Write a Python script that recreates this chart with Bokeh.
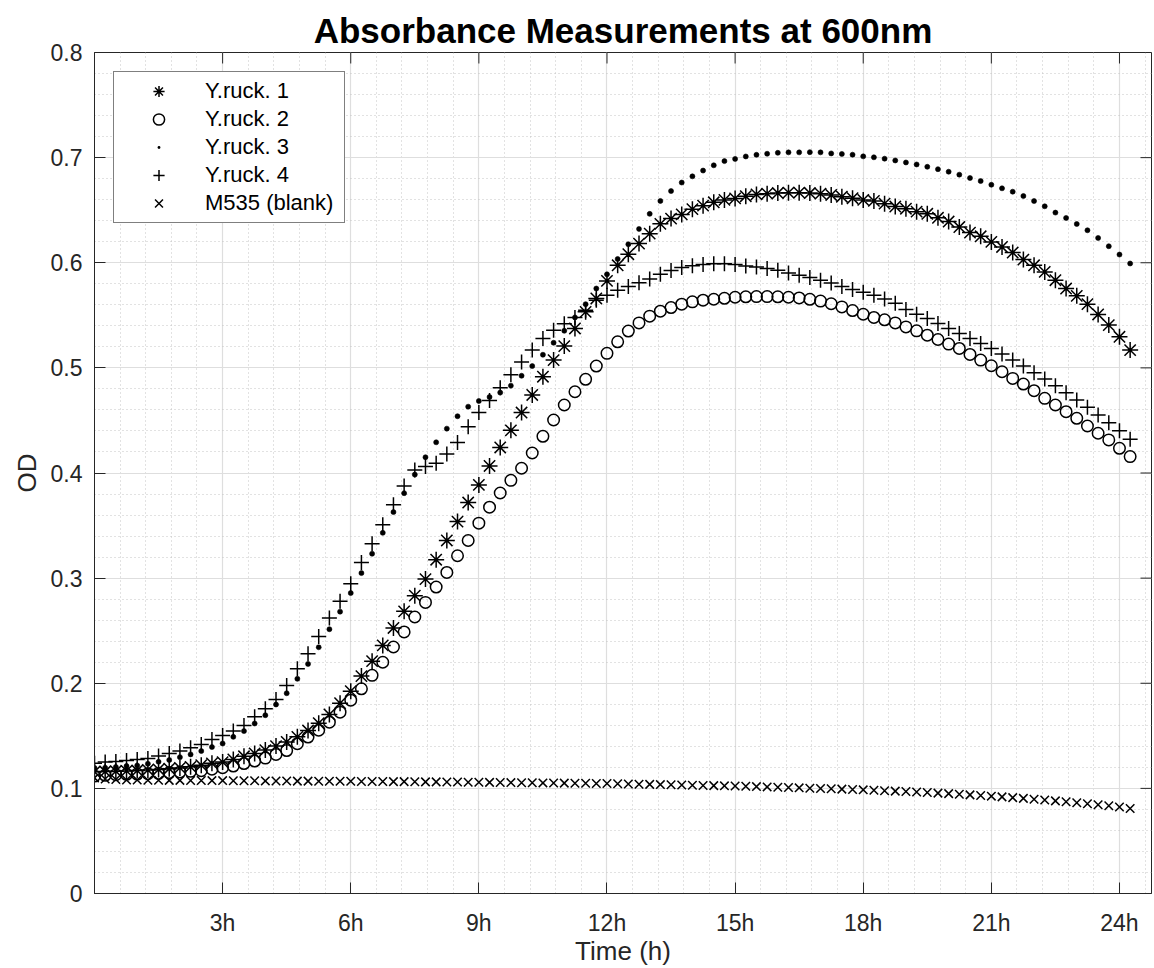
from bokeh.plotting import figure
from bokeh.models import Range1d, FixedTicker
from bokeh.embed import file_html
from bokeh.resources import INLINE

TIME_H = [
    0.0, 0.25, 0.5, 0.75, 1.0, 1.25, 1.5, 1.75,
    2.0, 2.25, 2.5, 2.75, 3.0, 3.25, 3.5, 3.75,
    4.0, 4.25, 4.5, 4.75, 5.0, 5.25, 5.5, 5.75,
    6.0, 6.25, 6.5, 6.75, 7.0, 7.25, 7.5, 7.75,
    8.0, 8.25, 8.5, 8.75, 9.0, 9.25, 9.5, 9.75,
    10.0, 10.25, 10.5, 10.75, 11.0, 11.25, 11.5, 11.75,
    12.0, 12.25, 12.5, 12.75, 13.0, 13.25, 13.5, 13.75,
    14.0, 14.25, 14.5, 14.75, 15.0, 15.25, 15.5, 15.75,
    16.0, 16.25, 16.5, 16.75, 17.0, 17.25, 17.5, 17.75,
    18.0, 18.25, 18.5, 18.75, 19.0, 19.25, 19.5, 19.75,
    20.0, 20.25, 20.5, 20.75, 21.0, 21.25, 21.5, 21.75,
    22.0, 22.25, 22.5, 22.75, 23.0, 23.25, 23.5, 23.75,
    24.0, 24.25,
]

Y_RUCK_1 = [
    0.1158, 0.1160, 0.1163, 0.1166, 0.1170, 0.1175, 0.1180, 0.1187,
    0.1195, 0.1205, 0.1220, 0.1238, 0.1250, 0.1275, 0.1305, 0.1332,
    0.1364, 0.1402, 0.1442, 0.1490, 0.1550, 0.1620, 0.1703, 0.1810,
    0.1925, 0.2068, 0.2210, 0.2360, 0.2526, 0.2684, 0.2833, 0.2991,
    0.3175, 0.3358, 0.3538, 0.3719, 0.3887, 0.4067, 0.4243, 0.4406,
    0.4575, 0.4742, 0.4916, 0.5074, 0.5207, 0.5375, 0.5533, 0.5660,
    0.5827, 0.5976, 0.6081, 0.6182, 0.6277, 0.6370, 0.6420, 0.6460,
    0.6510, 0.6543, 0.6575, 0.6598, 0.6612, 0.6633, 0.6650, 0.6657,
    0.6663, 0.6667, 0.6667, 0.6663, 0.6657, 0.6645, 0.6628, 0.6614,
    0.6598, 0.6588, 0.6562, 0.6535, 0.6514, 0.6486, 0.6466, 0.6428,
    0.6392, 0.6340, 0.6287, 0.6252, 0.6198, 0.6150, 0.6097, 0.6030,
    0.5976, 0.5913, 0.5834, 0.5755, 0.5685, 0.5606, 0.5508, 0.5407,
    0.5296, 0.5169,
]

Y_RUCK_2 = [
    0.1117, 0.1124, 0.1130, 0.1134, 0.1136, 0.1140, 0.1143, 0.1150,
    0.1156, 0.1162, 0.1168, 0.1182, 0.1197, 0.1212, 0.1236, 0.1260,
    0.1288, 0.1322, 0.1360, 0.1425, 0.1488, 0.1554, 0.1630, 0.1725,
    0.1839, 0.1947, 0.2075, 0.2200, 0.2345, 0.2488, 0.2630, 0.2769,
    0.2915, 0.3054, 0.3213, 0.3358, 0.3523, 0.3675, 0.3810, 0.3930,
    0.4045, 0.4190, 0.4349, 0.4504, 0.4647, 0.4773, 0.4891, 0.5017,
    0.5138, 0.5248, 0.5350, 0.5428, 0.5492, 0.5539, 0.5574, 0.5606,
    0.5628, 0.5644, 0.5653, 0.5662, 0.5672, 0.5676, 0.5678, 0.5678,
    0.5676, 0.5672, 0.5665, 0.5652, 0.5635, 0.5610, 0.5580, 0.5545,
    0.5510, 0.5480, 0.5457, 0.5428, 0.5390, 0.5352, 0.5311, 0.5270,
    0.5226, 0.5185, 0.5128, 0.5074, 0.5020, 0.4963, 0.4900, 0.4846,
    0.4783, 0.4710, 0.4647, 0.4583, 0.4520, 0.4447, 0.4378, 0.4315,
    0.4235, 0.4156,
]

Y_RUCK_3 = [
    0.1195, 0.1197, 0.1204, 0.1212, 0.1218, 0.1234, 0.1253, 0.1270,
    0.1297, 0.1323, 0.1355, 0.1393, 0.1427, 0.1490, 0.1545, 0.1617,
    0.1696, 0.1798, 0.1905, 0.2042, 0.2184, 0.2342, 0.2514, 0.2681,
    0.2858, 0.3048, 0.3232, 0.3431, 0.3628, 0.3808, 0.3985, 0.4150,
    0.4292, 0.4422, 0.4540, 0.4631, 0.4685, 0.4723, 0.4765, 0.4830,
    0.4925, 0.5017, 0.5125, 0.5239, 0.5353, 0.5480, 0.5606, 0.5755,
    0.5890, 0.6036, 0.6176, 0.6321, 0.6465, 0.6588, 0.6682, 0.6763,
    0.6822, 0.6877, 0.6927, 0.6967, 0.6988, 0.7011, 0.7027, 0.7037,
    0.7046, 0.7050, 0.7050, 0.7052, 0.7050, 0.7040, 0.7035, 0.7028,
    0.7012, 0.7003, 0.6990, 0.6973, 0.6954, 0.6935, 0.6913, 0.6890,
    0.6866, 0.6838, 0.6806, 0.6777, 0.6742, 0.6708, 0.6676, 0.6635,
    0.6587, 0.6537, 0.6477, 0.6426, 0.6369, 0.6309, 0.6236, 0.6157,
    0.6078, 0.5993,
]

Y_RUCK_4 = [
    0.1240, 0.1250, 0.1256, 0.1266, 0.1275, 0.1285, 0.1307, 0.1332,
    0.1355, 0.1387, 0.1418, 0.1465, 0.1503, 0.1545, 0.1598, 0.1681,
    0.1757, 0.1845, 0.1978, 0.2138, 0.2280, 0.2445, 0.2621, 0.2779,
    0.2947, 0.3149, 0.3327, 0.3507, 0.3697, 0.3877, 0.4029, 0.4061,
    0.4093, 0.4181, 0.4289, 0.4441, 0.4575, 0.4690, 0.4810, 0.4935,
    0.5055, 0.5169, 0.5280, 0.5359, 0.5420, 0.5480, 0.5549, 0.5644,
    0.5691, 0.5739, 0.5773, 0.5810, 0.5845, 0.5890, 0.5927, 0.5955,
    0.5972, 0.5983, 0.5990, 0.5990, 0.5983, 0.5970, 0.5960, 0.5945,
    0.5929, 0.5903, 0.5881, 0.5859, 0.5834, 0.5808, 0.5775, 0.5745,
    0.5720, 0.5690, 0.5655, 0.5615, 0.5556, 0.5511, 0.5470, 0.5423,
    0.5375, 0.5328, 0.5280, 0.5233, 0.5185, 0.5131, 0.5074, 0.5017,
    0.4954, 0.4894, 0.4830, 0.4764, 0.4694, 0.4625, 0.4552, 0.4479,
    0.4403, 0.4321,
]

M535_BLANK = [
    0.1100, 0.1090, 0.1085, 0.1080, 0.1080, 0.1078, 0.1078, 0.1076,
    0.1076, 0.1075, 0.1075, 0.1074, 0.1074, 0.1073, 0.1072, 0.1072,
    0.1071, 0.1070, 0.1070, 0.1069, 0.1069, 0.1068, 0.1068, 0.1067,
    0.1067, 0.1066, 0.1066, 0.1065, 0.1064, 0.1064, 0.1063, 0.1062,
    0.1062, 0.1061, 0.1060, 0.1059, 0.1058, 0.1057, 0.1056, 0.1055,
    0.1054, 0.1053, 0.1052, 0.1051, 0.1050, 0.1049, 0.1048, 0.1047,
    0.1046, 0.1044, 0.1042, 0.1040, 0.1038, 0.1036, 0.1034, 0.1032,
    0.1030, 0.1028, 0.1026, 0.1024, 0.1022, 0.1020, 0.1017, 0.1014,
    0.1011, 0.1008, 0.1005, 0.1002, 0.0999, 0.0996, 0.0993, 0.0990,
    0.0986, 0.0982, 0.0978, 0.0974, 0.0970, 0.0965, 0.0960, 0.0955,
    0.0950, 0.0944, 0.0938, 0.0932, 0.0926, 0.0919, 0.0912, 0.0905,
    0.0897, 0.0889, 0.0881, 0.0872, 0.0863, 0.0854, 0.0844, 0.0834,
    0.0823, 0.0808,
]

SERIES_LABELS = ["Y.ruck. 1", "Y.ruck. 2", "Y.ruck. 3", "Y.ruck. 4", "M535 (blank)"]

X_TICKS = [3, 6, 9, 12, 15, 18, 21, 24]
X_TICK_LABELS = ["3h", "6h", "9h", "12h", "15h", "18h", "21h", "24h"]
Y_TICKS = [0, 0.1, 0.2, 0.3, 0.4, 0.5, 0.6, 0.7, 0.8]
Y_TICK_LABELS = ["0", "0.1", "0.2", "0.3", "0.4", "0.5", "0.6", "0.7", "0.8"]

X_MAX = 24.75
Y_MAX = 0.8

# minor grid positions (5 subdivisions per major interval)
x_minor = [round(i * 0.6, 3) for i in range(1, 42) if i % 5 != 0]
y_minor = [round(i * 0.02, 3) for i in range(1, 40) if i % 5 != 0]

FONT = "Liberation Sans"
AX_COL = "#262626"

W, H = 1154, 968
BL, BR, BT, BB = 94, 3, 52, 74

p = figure(
    width=W, height=H,
    output_backend="svg", toolbar_location=None,
    x_range=Range1d(0, X_MAX), y_range=Range1d(0, Y_MAX),
    min_border_left=BL, min_border_right=BR, min_border_top=BT, min_border_bottom=BB,
    title="Absorbance Measurements at 600nm",
)
p.background_fill_color = "white"
p.border_fill_color = "white"
p.outline_line_color = AX_COL
p.outline_line_width = 1

p.title.align = "center"
p.title.text_font = FONT
p.title.text_font_size = "35px"
p.title.text_font_style = "bold"
p.title.text_color = "black"
p.title.standoff = 5

xt = FixedTicker(ticks=X_TICKS, minor_ticks=x_minor)
yt = FixedTicker(ticks=Y_TICKS, minor_ticks=y_minor)

xa = p.xaxis[0]
ya = p.yaxis[0]
xa.ticker = xt
ya.ticker = yt
xa.major_label_overrides = {t: l for t, l in zip(X_TICKS, X_TICK_LABELS)}
ya.major_label_overrides = {t: l for t, l in zip(Y_TICKS, Y_TICK_LABELS)}
xa.axis_label = "Time (h)"
ya.axis_label = "OD"
for ax in (xa, ya):
    ax.major_tick_in = 11
    ax.major_tick_out = 0
    ax.minor_tick_in = 0
    ax.minor_tick_out = 0
    ax.axis_line_color = AX_COL
    ax.major_tick_line_color = AX_COL
    ax.major_label_text_font = FONT
    ax.major_label_text_font_size = "23px"
    ax.major_label_text_color = AX_COL
    ax.axis_label_text_font = FONT
    ax.axis_label_text_font_size = "26px"
    ax.axis_label_text_font_style = "normal"
    ax.axis_label_text_color = AX_COL
xa.major_label_standoff = 16
xa.axis_label_standoff = -3
ya.major_label_standoff = 12
ya.axis_label_standoff = 6

for g, tk in ((p.xgrid, xt), (p.ygrid, yt)):
    g.ticker = tk
    g.grid_line_color = "#dedede"
    g.grid_line_width = 1.2
    g.minor_grid_line_color = "#c4c4c4"
    g.minor_grid_line_dash = "1 3"
    g.minor_grid_line_width = 1

# inward ticks on the top and right edges of the box (tick length 11 px)
frame_w = W - BL - BR
frame_h = H - BT - BB
tick_dx = 11 * X_MAX / frame_w
tick_dy = 11 * Y_MAX / frame_h
p.segment(x0=X_TICKS, y0=[Y_MAX] * len(X_TICKS), x1=X_TICKS, y1=[Y_MAX - tick_dy] * len(X_TICKS),
          line_color=AX_COL, line_width=1)
p.segment(x0=[X_MAX - tick_dx] * len(Y_TICKS), y0=Y_TICKS, x1=[X_MAX] * len(Y_TICKS), y1=Y_TICKS,
          line_color=AX_COL, line_width=1)

common = dict(line_color="black", line_width=1.5)
p.scatter(TIME_H, Y_RUCK_1, marker="asterisk", size=16, legend_label=SERIES_LABELS[0], **common)
p.scatter(TIME_H, Y_RUCK_2, marker="circle", size=11.5, fill_color=None, legend_label=SERIES_LABELS[1], **common)
p.scatter(TIME_H, Y_RUCK_3, marker="circle", size=5, fill_color="black", line_color="black", line_width=0.6)
# same points as small "dot" markers (inside the circles) give the legend its small dot
p.scatter(TIME_H, Y_RUCK_3, marker="dot", size=6, line_color="black", fill_color="black", line_width=3,
          legend_label=SERIES_LABELS[2])
p.scatter(TIME_H, Y_RUCK_4, marker="cross", size=15, legend_label=SERIES_LABELS[3], **common)
p.scatter(TIME_H, M535_BLANK, marker="x", size=12, legend_label=SERIES_LABELS[4], **common)

lg = p.legend[0]
lg.location = "top_left"
lg.margin = 19
lg.border_line_color = "black"
lg.border_line_width = 1
lg.background_fill_color = "white"
lg.background_fill_alpha = 1
lg.label_text_font = FONT
lg.label_text_font_size = "22px"
lg.label_text_color = "black"
lg.glyph_width = 79
lg.glyph_height = 28
lg.label_height = 28
lg.label_width = 134
lg.spacing = 0
lg.padding = 5
lg.label_standoff = 7

open("out.html", "w").write(file_html(p, INLINE))
